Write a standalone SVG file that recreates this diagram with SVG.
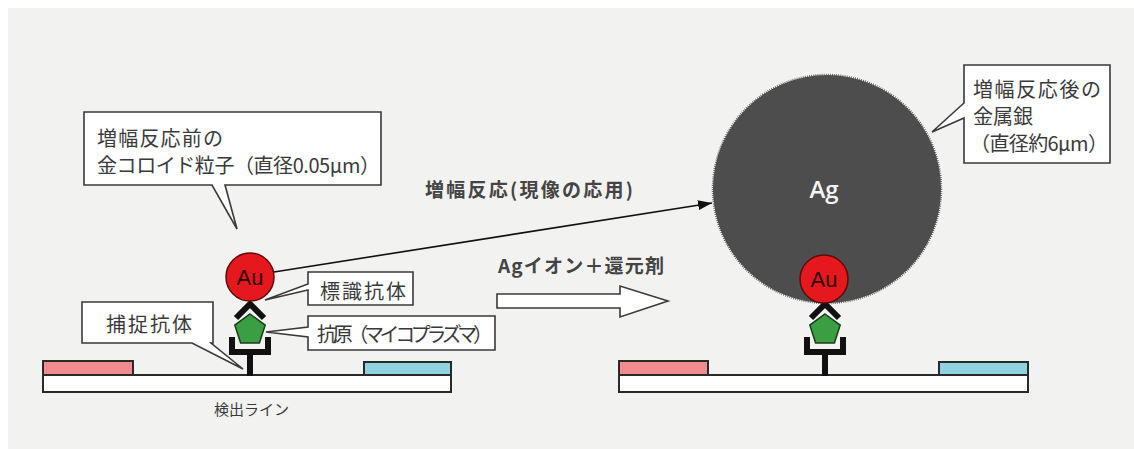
<svg xmlns="http://www.w3.org/2000/svg" width="1134" height="449" viewBox="0 0 1134 449">
  <style>
    .jp { font-family: "Noto Sans CJK JP", "Noto Sans", sans-serif; fill: #3a3a3a; }
    .call { fill: #ffffff; stroke: #3a3a3a; stroke-width: 1.6; stroke-linejoin: miter; }
    .strip { fill: #ffffff; stroke: #2a2a2a; stroke-width: 2; }
    .pink { fill: #ef8c8e; stroke: #2a2a2a; stroke-width: 2; }
    .blue { fill: #8fd3e2; stroke: #2a2a2a; stroke-width: 2; }
    .au { fill: #e5181d; stroke: #5e0b0b; stroke-width: 1.5; }
    .au-t { font-family: "Liberation Sans", Arial, sans-serif; font-size: 22px; text-anchor: middle; fill: #2a0000; }
    .ab { fill: none; stroke: #111111; stroke-width: 6; }
    .ag-pent { fill: #3c9e42; stroke: #1b3d1d; stroke-width: 1.5; }
  </style>
  <defs>
    <marker id="head" viewBox="0 0 14 10" refX="14" refY="5" markerWidth="14" markerHeight="10" markerUnits="userSpaceOnUse" orient="auto">
      <path d="M0,0 L14,5 L0,10 Z" fill="#111111"/>
    </marker>
    <!-- one antibody/antigen stack, drawn around x=0 -->
    <g id="stack">
      <path class="ab" d="M-18,337 V352 H18 V337 M0,352 V376"/>
      <polygon class="ag-pent" points="0,314 15.2,325.1 9.4,342.9 -9.4,342.9 -15.2,325.1"/>
      <polyline class="ab" points="-14,318 0,304 14,318"/>
    </g>
  </defs>

  <!-- background panel -->
  <rect x="0" y="0" width="1134" height="449" fill="#ffffff"/>
  <rect x="8" y="8" width="1126" height="441" fill="#f2f2f1"/>

  <!-- left test strip -->
  <g id="strip-left">
    <rect class="strip" x="43" y="375" width="408" height="17"/>
    <rect class="pink" x="43" y="361" width="90" height="14"/>
    <rect class="blue" x="364" y="362" width="87" height="13"/>
    <text class="jp" x="214" y="415" font-size="15">検出ライン</text>
  </g>

  <!-- right test strip -->
  <g id="strip-right">
    <rect class="strip" x="619" y="375" width="409" height="17"/>
    <rect class="pink" x="619" y="361" width="89" height="14"/>
    <rect class="blue" x="939" y="362" width="89" height="13"/>
  </g>

  <!-- silver particle after amplification -->
  <g id="node-ag">
    <circle cx="827" cy="189" r="114" fill="#4e4d4d" stroke="#4e4d4d" stroke-width="2.5" stroke-dasharray="0.8 1.3"/>
    <text x="824" y="198" font-family="'Open Sans', 'Liberation Sans', sans-serif" font-size="24" font-weight="600" fill="#f4f4f4" text-anchor="middle">Ag</text>
  </g>

  <!-- left antibody stack with gold colloid -->
  <g id="node-stack-left">
    <use href="#stack" x="250"/>
    <circle class="au" cx="250" cy="277" r="24"/>
    <text class="au-t" x="250" y="285">Au</text>
  </g>

  <!-- right antibody stack with gold colloid -->
  <g id="node-stack-right">
    <use href="#stack" x="825"/>
    <circle class="au" cx="824" cy="279" r="24"/>
    <text class="au-t" x="824" y="287">Au</text>
  </g>

  <!-- callouts -->
  <g id="callout-gold">
    <path class="call" d="M84,112 H381 V185 H225 L237,229 L212,185 H84 Z"/>
    <text class="jp" x="97" y="146" font-size="20" textLength="126" lengthAdjust="spacing">増幅反応前の</text>
    <text class="jp" x="97" y="173" font-size="20" textLength="283" lengthAdjust="spacing">金コロイド粒子（直径0.05μm）</text>
  </g>

  <g id="callout-capture">
    <path class="call" d="M82,302 H213 V343 H211 L243,369 L192,343 H82 Z"/>
    <text class="jp" x="106" y="332" font-size="20" textLength="86" lengthAdjust="spacing">捕捉抗体</text>
  </g>

  <g id="callout-label">
    <path class="call" d="M308,272 H413 V305 H308 V290 L265,300 L308,284 Z"/>
    <text class="jp" x="320" y="299" font-size="20" textLength="86" lengthAdjust="spacing">標識抗体</text>
  </g>

  <g id="callout-antigen">
    <path class="call" d="M308,316 H495 V350 H308 V337 L266,332 L308,327 Z"/>
    <text class="jp" x="317" y="342" font-size="20" textLength="176" lengthAdjust="spacing">抗原（マイコプラズマ）</text>
  </g>

  <g id="callout-silver">
    <path class="call" d="M964,65 H1110 V163 H964 V118 L932,132 L964,103 Z"/>
    <text class="jp" x="973" y="97" font-size="20" textLength="128" lengthAdjust="spacing">増幅反応後の</text>
    <text class="jp" x="973" y="124" font-size="20">金属銀</text>
    <text class="jp" x="970" y="151" font-size="20" textLength="138" lengthAdjust="spacing">（直径約6μm）</text>
  </g>

  <!-- connectors -->
  <g id="connectors">
    <line x1="274" y1="272" x2="712" y2="203" stroke="#111111" stroke-width="1.6" marker-end="url(#head)"/>
    <text class="jp" x="425" y="197" font-size="19" font-weight="700" style="fill:#444444" textLength="208" lengthAdjust="spacing">増幅反応(現像の応用)</text>
    <polygon points="497,294 620,294 620,286 668,301 620,317 620,308 497,308" fill="#ffffff" stroke="#3a3a3a" stroke-width="1.6"/>
    <text class="jp" x="498" y="273" font-size="19" font-weight="700" style="fill:#444444" textLength="166" lengthAdjust="spacing">Agイオン＋還元剤</text>
  </g>
</svg>
